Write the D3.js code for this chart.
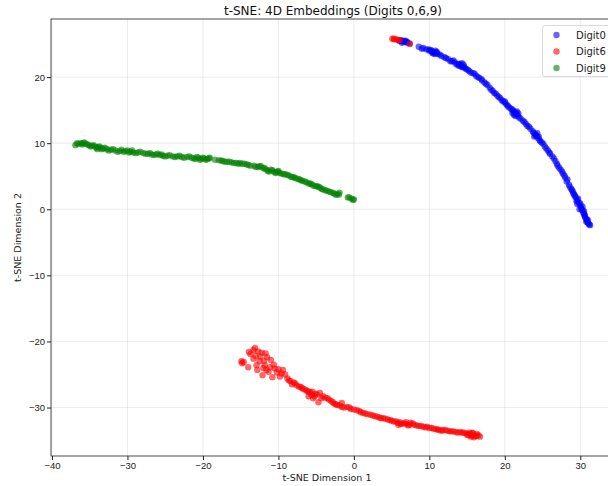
<!DOCTYPE html>
<html lang="en">
<head>
    <meta charset="UTF-8">
    <title>t-SNE: 4D Embeddings</title>
    <script src="https://d3js.org/d3.v7.min.js"></script>
    <style>
        html, body {
            margin: 0;
            padding: 0;
            background: #fff;
        }
        svg {
            display: block;
            font-family: "DejaVu Sans", sans-serif;
        }
        .grid line {
            stroke: #b0b0b0;
            stroke-opacity: 0.3;
            stroke-width: 0.8;
        }
        .axis text {
            font-size: 9.5px;
            fill: #222;
        }
        .axis line, .axis path {
            stroke: #222;
        }
    </style>
</head>
<body>
    <svg id="chart" width="608" height="486"></svg>

    <script>
        // t-SNE coordinates, [x, y]
        var digit0 = [
            [6.0,25.5],[6.3,25.4],[6.6,25.4],[6.9,25.3],[7.1,25.2],[6.4,25.2],[6.8,25.5],[7.4,25.1],
            [8.6,24.6],[9.2,24.4],[9.6,24.2],[10.0,24.0],[10.3,23.9],[10.6,23.8],[10.9,23.7],[10.5,23.6],
            [11.1,23.5],[10.2,24.1],[11.4,23.4],[12.0,23.0],[12.5,22.7],[13.0,22.4],[13.4,22.2],[13.8,22.0],
            [14.1,21.8],[14.4,21.5],[13.9,21.7],[14.6,21.6],[14.3,22.1],[14.9,21.2],[15.3,20.9],[15.8,20.6],
            [16.2,20.2],[16.6,19.9],[17.0,19.5],[17.3,19.2],[17.7,18.8],[18.2,18.1],[18.6,17.6],[19.0,17.2],
            [19.4,16.8],[19.8,16.3],[20.1,16.0],[20.4,15.6],[20.8,15.2],[21.1,14.9],[21.3,14.6],[21.5,14.4],
            [21.7,14.2],[21.2,14.3],[21.6,14.8],[21.9,13.9],[22.4,13.4],[22.8,12.9],[23.2,12.5],[23.7,11.8],
            [24.0,11.4],[24.2,11.1],[23.9,11.0],[24.4,10.8],[24.6,10.5],[24.9,10.1],[24.3,11.5],[25.3,9.5],
            [25.7,8.9],[26.0,8.4],[26.3,8.0],[26.7,7.3],[27.0,6.6],[27.4,6.0],[27.7,5.4],[28.0,4.8],
            [28.2,4.2],[28.5,3.7],[28.8,3.1],[29.0,2.7],[29.2,2.2],[29.4,1.8],[29.6,1.4],[29.8,1.0],
            [29.5,1.2],[30.0,0.6],[30.1,0.2],[30.3,-0.2],[30.4,-0.5],[30.6,-0.9],[30.7,-1.3],[30.9,-1.7],
            [31.0,-2.0],[31.2,-2.3],[30.5,-0.3],[29.9,0.0],[30.8,-1.9],
            [6.2,25.6],[7.0,25.4],[6.5,25.5],[9.0,24.3],[9.9,24.2],[10.4,23.7],[10.8,24.0],[11.0,23.8],
            [10.7,23.5],[11.6,23.2],[12.2,22.9],[12.8,22.4],[13.2,22.5],[13.6,21.9],[14.0,22.0],[14.2,21.6],
            [14.5,21.9],[14.7,21.4],[15.1,21.1],[15.5,20.7],[16.0,20.5],[16.4,20.0],[16.9,19.7],[17.5,19.0],
            [18.0,18.4],[18.4,17.9],[18.8,17.5],[19.2,17.0],[19.6,16.5],[20.0,16.3],[20.3,15.8],[20.6,15.4],
            [21.0,15.1],[21.4,14.7],[21.0,14.6],[21.8,14.5],[21.4,14.1],[22.1,13.7],[22.6,13.2],[23.0,12.6],
            [23.4,12.2],[23.8,11.6],[24.1,11.2],[24.5,11.0],[24.7,10.3],[25.1,9.9],[25.5,9.2],[25.9,8.6],
            [26.5,7.7],[26.9,6.9],[27.2,6.3],[27.6,5.7],[27.9,5.1],[28.3,4.5],[28.6,3.4],[28.9,2.9],
            [29.1,2.4],[29.3,2.0],[29.7,1.6],[29.6,0.8],[30.0,0.9],[30.2,0.0],[30.3,0.4],[30.5,-0.7],
            [30.6,-1.1],[30.8,-1.5],[31.1,-2.2],[31.0,-1.6],[31.3,-2.4]
        ];

        var digit6 = [
            [5.1,25.8],[5.4,25.7],[5.7,25.7],[6.1,25.6],[7.4,25.0],[5.3,25.8],[5.9,25.6],
            [-14.8,-23.3],[-14.9,-23.0],[-14.0,-23.9],[-13.7,-21.9],[-13.3,-21.3],[-13.1,-21.0],[-12.7,-21.5],
            [-12.2,-21.7],[-12.8,-24.3],[-12.5,-23.0],[-11.9,-22.9],[-11.5,-22.4],[-11.8,-23.6],[-11.1,-23.9],
            [-11.3,-24.6],[-10.8,-25.4],[-10.5,-24.1],[-10.2,-24.7],[-12.1,-25.1],[-13.3,-22.6],[-11.0,-22.8],
            [-9.4,-24.3],[-9.8,-25.3],[-8.8,-25.6],[-8.4,-26.0],[-8.0,-26.2],[-7.6,-26.6],[-7.1,-26.9],
            [-6.7,-27.2],[-6.2,-27.5],[-5.8,-27.7],[-5.6,-28.1],[-5.4,-28.6],[-6.0,-28.3],[-5.1,-27.9],
            [-4.5,-27.8],[-4.7,-29.2],[-4.1,-28.3],[-3.5,-28.6],[-3.0,-29.0],[-2.6,-29.4],[-2.2,-29.6],
            [-1.6,-29.9],[-1.6,-29.3],[-0.9,-29.9],[-0.4,-30.2],[0.4,-30.4],[0.9,-30.7],[1.5,-30.9],
            [2.2,-31.1],[2.8,-31.3],[3.4,-31.5],[3.9,-31.6],[4.5,-31.8],[5.0,-32.0],[5.6,-32.1],[5.9,-32.6],
            [6.1,-32.2],[6.4,-32.4],[6.9,-32.2],[7.2,-32.7],[7.5,-32.3],[8.0,-32.6],[8.6,-32.8],[9.2,-32.9],
            [9.7,-32.9],[10.3,-33.1],[10.9,-33.3],[11.3,-33.4],[11.8,-33.4],[12.4,-33.5],[12.9,-33.6],
            [13.5,-33.7],[14.1,-33.7],[14.6,-33.8],[15.0,-34.1],[15.3,-33.8],[15.6,-34.2],[15.8,-33.9],
            [16.0,-34.3],[16.3,-34.0],[16.7,-34.4],[15.5,-34.4],
            [-14.6,-23.1],[-13.9,-21.6],[-13.0,-22.2],[-12.4,-22.3],[-12.0,-24.0],[-11.6,-24.3],[-11.7,-21.8],
            [-12.9,-23.6],[-10.6,-23.5],[-10.0,-24.2],[-9.6,-24.8],[-9.1,-25.0],[-8.6,-25.9],[-8.2,-26.5],
            [-7.8,-26.3],[-7.3,-26.8],[-6.9,-27.0],[-6.4,-27.3],[-6.0,-27.6],[-5.5,-27.6],[-5.2,-28.3],
            [-4.9,-28.0],[-4.3,-28.6],[-3.8,-28.5],[-3.3,-28.8],[-2.8,-29.2],[-2.4,-29.5],[-1.9,-29.7],
            [-1.3,-30.0],[-0.6,-30.0],[0.0,-30.3],[0.7,-30.5],[1.2,-30.8],[1.8,-31.0],[2.5,-31.2],[3.1,-31.4],
            [3.6,-31.6],[4.2,-31.7],[4.8,-31.9],[5.3,-32.1],[5.8,-32.3],[6.2,-32.5],[6.7,-32.4],[7.0,-32.5],
            [7.4,-32.6],[7.8,-32.4],[8.3,-32.7],[8.9,-32.8],[9.5,-33.0],[10.0,-33.1],[10.6,-33.2],[11.1,-33.3],
            [11.6,-33.5],[12.1,-33.4],[12.7,-33.6],[13.2,-33.6],[13.8,-33.8],[14.4,-33.8],[14.9,-33.9],
            [15.2,-34.2],[15.4,-34.0],[15.7,-33.8],[15.9,-34.5],[16.2,-34.3],[16.5,-34.2]
        ];

        var digit9 = [
            [-36.9,9.7],[-36.5,9.9],[-36.2,10.0],[-35.9,10.0],[-35.5,9.9],[-35.1,9.7],[-34.7,9.6],[-34.3,9.5],
            [-33.9,9.4],[-33.6,9.3],[-33.2,9.2],[-34.0,9.1],[-32.7,9.1],[-32.2,9.0],[-31.6,8.9],[-31.0,8.8],
            [-30.5,8.7],[-30.0,8.9],[-29.6,8.7],[-29.2,8.6],[-28.6,8.6],[-27.9,8.5],[-27.3,8.4],[-26.8,8.3],
            [-26.2,8.3],[-25.7,8.2],[-25.3,8.1],[-24.7,8.1],[-24.0,8.0],[-23.4,8.0],[-22.8,7.9],[-22.1,7.9],
            [-21.5,7.8],[-21.0,7.6],[-20.6,7.8],[-20.2,7.6],[-19.8,7.7],[-19.4,7.6],[-19.1,7.8],[-17.9,7.4],
            [-17.4,7.3],[-16.8,7.2],[-16.2,7.1],[-15.6,7.0],[-15.1,7.0],[-14.5,6.9],[-14.0,6.7],[-13.2,6.6],
            [-12.7,6.4],[-12.3,6.5],[-11.8,6.2],[-11.4,5.8],[-11.0,6.0],[-10.6,5.7],[-10.3,5.6],[-10.0,5.8],
            [-9.6,5.4],[-9.1,5.3],[-8.6,5.1],[-8.1,4.9],[-7.7,4.7],[-7.2,4.5],[-6.8,4.3],[-6.3,4.1],
            [-5.8,3.9],[-5.4,3.6],[-4.9,3.5],[-4.5,3.3],[-4.1,3.0],[-3.6,2.8],[-3.1,2.6],[-2.6,2.4],
            [-2.2,2.3],[-1.9,2.5],[-0.6,1.8],[-0.3,1.6],[0.0,1.5],
            [-36.7,10.0],[-36.0,9.8],[-35.7,10.1],[-35.3,9.8],[-34.9,9.5],[-34.5,9.7],[-34.1,9.3],[-33.7,9.5],
            [-33.4,9.1],[-33.0,9.3],[-32.5,8.9],[-31.9,9.1],[-31.3,8.7],[-30.8,9.0],[-30.3,8.8],[-29.8,8.6],
            [-29.4,8.9],[-28.9,8.5],[-28.3,8.7],[-27.6,8.4],[-27.0,8.5],[-26.5,8.2],[-26.0,8.4],[-25.5,8.3],
            [-25.0,8.0],[-24.4,8.2],[-23.7,7.9],[-23.1,8.1],[-22.5,7.8],[-21.8,8.0],[-21.2,7.7],[-20.8,7.9],
            [-20.4,7.5],[-20.0,7.8],[-19.6,7.5],[-19.2,7.7],[-18.4,7.5],[-17.6,7.4],[-17.1,7.2],[-16.5,7.2],
            [-15.9,7.0],[-15.3,6.9],[-14.8,6.9],[-14.2,6.8],[-13.7,6.6],[-13.0,6.4],[-12.5,6.5],[-12.0,6.2],
            [-11.6,6.0],[-11.2,5.7],[-10.8,5.9],[-10.4,5.5],[-10.1,5.7],[-9.8,5.5],[-9.3,5.3],[-8.8,5.2],
            [-8.3,4.9],[-7.9,4.8],[-7.4,4.6],[-7.0,4.4],[-6.5,4.2],[-6.0,3.9],[-5.6,3.8],[-5.1,3.5],
            [-4.7,3.4],[-4.3,3.1],[-3.8,2.9],[-3.3,2.7],[-2.8,2.5],[-2.4,2.2],[-2.0,2.2],[-0.8,1.8],[-0.1,1.4]
        ];

        var seriesNames = ["Digit0", "Digit6", "Digit9"];
        var seriesColors = ["#0000ff", "#ff0000", "#008000"];
        var xTicks = [-40, -30, -20, -10, 0, 10, 20, 30];
        var yTicks = [-30, -20, -10, 0, 10, 20];

        var series = [digit0, digit6, digit9];

        // axes box (right side runs past the window edge, like the original crop)
        var box = {left: 51, top: 19, right: 615, bottom: 456};

        var svg = d3.select("#chart");

        var x = d3.scaleLinear().domain([-40.13, 34.6]).range([box.left, box.right]);
        var y = d3.scaleLinear().domain([-37.33, 28.79]).range([box.bottom, box.top]);

        // grid
        var grid = svg.append("g").attr("class", "grid");
        grid.selectAll(".gx").data(xTicks).enter().append("line")
            .attr("x1", d => x(d)).attr("x2", d => x(d))
            .attr("y1", box.top).attr("y2", box.bottom);
        grid.selectAll(".gy").data(yTicks).enter().append("line")
            .attr("x1", box.left).attr("x2", box.right)
            .attr("y1", d => y(d)).attr("y2", d => y(d));

        // points
        series.forEach(function(pts, i) {
            svg.append("g").selectAll("circle")
                .data(pts)
                .enter().append("circle")
                .attr("cx", d => x(d[0]))
                .attr("cy", d => y(d[1]))
                .attr("r", 3.2)
                .attr("fill", seriesColors[i])
                .attr("fill-opacity", 0.6);
        });

        // frame
        svg.append("rect")
            .attr("x", box.left).attr("y", box.top)
            .attr("width", box.right - box.left).attr("height", box.bottom - box.top)
            .attr("fill", "none")
            .attr("stroke", "#222")
            .attr("stroke-width", 0.8);

        svg.append("g")
            .attr("class", "axis")
            .attr("transform", "translate(0," + box.bottom + ")")
            .call(d3.axisBottom(x).tickValues(xTicks).tickSize(4).tickPadding(2))
            .call(g => g.select(".domain").remove());

        svg.append("g")
            .attr("class", "axis")
            .attr("transform", "translate(" + box.left + ",0)")
            .call(d3.axisLeft(y).tickValues(yTicks).tickSize(4).tickPadding(2))
            .call(g => g.select(".domain").remove());

        // title and labels
        svg.append("text")
            .attr("x", (box.left + box.right) / 2)
            .attr("y", 15)
            .attr("text-anchor", "middle")
            .attr("font-size", "12px")
            .attr("fill", "#111")
            .text("t-SNE: 4D Embeddings (Digits 0,6,9)");

        svg.append("text")
            .attr("x", (box.left + box.right) / 2 - 6)
            .attr("y", 481)
            .attr("text-anchor", "middle")
            .attr("font-size", "9.5px")
            .attr("fill", "#222")
            .text("t-SNE Dimension 1");

        svg.append("text")
            .attr("transform", "translate(21," + ((box.top + box.bottom) / 2) + ") rotate(-90)")
            .attr("text-anchor", "middle")
            .attr("font-size", "9.5px")
            .attr("fill", "#222")
            .text("t-SNE Dimension 2");

        // legend
        var legend = svg.append("g");
        legend.append("rect")
            .attr("x", 542.5).attr("y", 25.5)
            .attr("width", 80).attr("height", 51)
            .attr("rx", 2.5)
            .attr("fill", "#fff").attr("fill-opacity", 0.8)
            .attr("stroke", "#d0d0d0").attr("stroke-width", 0.8);

        var items = legend.selectAll(".item")
            .data(seriesNames)
            .enter().append("g")
            .attr("transform", (d, i) => "translate(556.5," + (35 + i * 16.5) + ")");

        items.append("circle")
            .attr("r", 3.2)
            .attr("fill", (d, i) => seriesColors[i])
            .attr("fill-opacity", 0.6);

        items.append("text")
            .attr("x", 19.5)
            .attr("dy", "0.35em")
            .attr("font-size", "10px")
            .attr("fill", "#222")
            .text(d => d);
    </script>
</body>
</html>
